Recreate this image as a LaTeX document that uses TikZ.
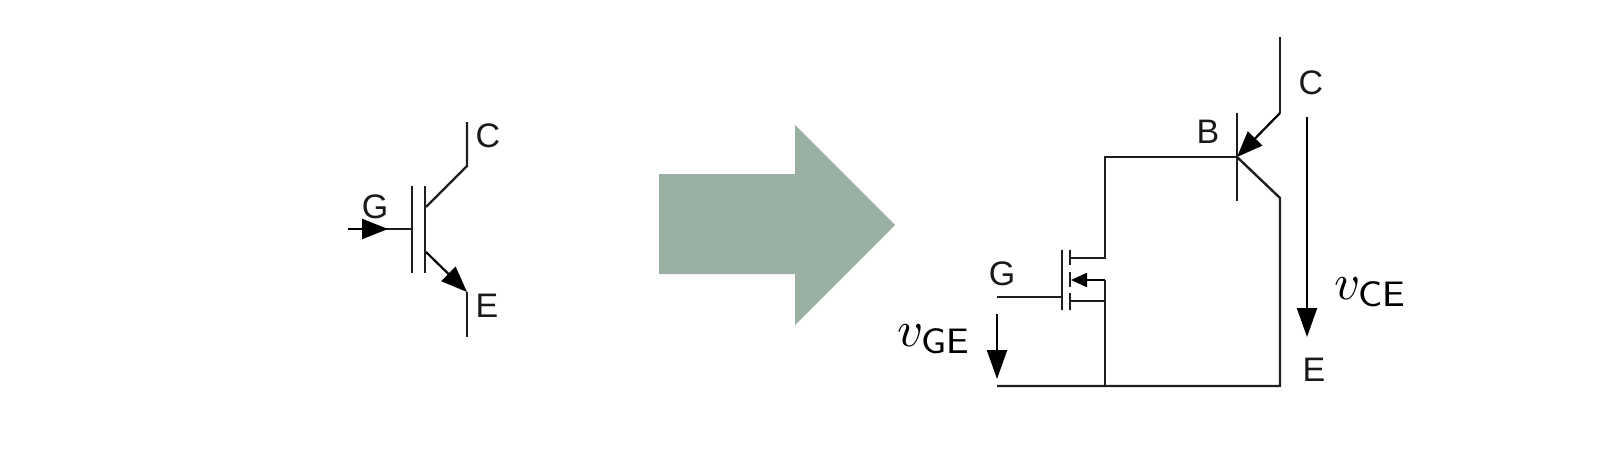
\documentclass[tikz,border=0pt]{standalone}
\usepackage{graphicx}
\usepackage{fontspec}
\newfontfamily\labelfont{Liberation Sans}
\usetikzlibrary{arrows.meta}
\definecolor{bigarrow}{HTML}{9AB0A3}
\definecolor{wire}{HTML}{1E1E1E}
\tikzset{
  wireline/.style={draw=wire,line width=2.4pt,line join=miter},
  thinwire/.style={draw=black,line width=2.2pt},
  pinlabel/.style={inner sep=0pt,font=\labelfont\fontsize{34}{34}\selectfont,text=black!90},
  vlabel/.style={inner sep=0pt,anchor=base west},
  tip/.style={-{Triangle[length=#1,width=20pt]}},
  tipsmall/.style={-{Triangle[length=16pt,width=14pt]}}
}
\begin{document}
\begin{tikzpicture}[x=1pt,y=-1pt]
\useasboundingbox (0,0) rectangle (1602,460);
\fill[bigarrow] (659,174) -- (795,174) -- (795,125) -- (895,225) -- (795,325) -- (795,274) -- (659,274) -- cycle;
% left IGBT
\coordinate (lc1) at (467,122);
\coordinate (lc2) at (467,166);
\coordinate (lcb) at (426,207);
\coordinate (leb) at (426,252);
\coordinate (le1) at (467,292);
\coordinate (le2) at (467,337);
\coordinate (lg0) at (348,229);
\coordinate (lg1) at (412,229);
\coordinate (lgt) at (388,229);
\coordinate (lb1a) at (412,186);
\coordinate (lb1b) at (412,273);
\coordinate (lb2a) at (425,186);
\coordinate (lb2b) at (425,273);
\draw[wireline] (lc1) -- (lc2) -- (lcb);
\draw[wireline] (lb1a) -- (lb1b);
\draw[wireline] (lb2a) -- (lb2b);
\draw[wireline] (lg0) -- (lg1);
\draw[thinwire,tip=26pt] (lg0) -- (lgt);
\draw[thinwire,tip=26pt] (leb) -- (le1);
\draw[wireline] (le1) -- (le2);
\node[pinlabel] (lC) at (488,136) {C};
\node[pinlabel] (lG) at (375,207) {G};
\node[pinlabel] (lE) at (487,306) {E};
% right circuit
\coordinate (rc1) at (1280,37);
\coordinate (rc2) at (1280,113);
\coordinate (rb) at (1237,157);
\coordinate (rba) at (1237,113);
\coordinate (rbb) at (1237,201);
\coordinate (re1) at (1280,198);
\coordinate (rbr) at (1280,386);
\coordinate (rbl) at (997,386);
\coordinate (rbm) at (1105,386);
\coordinate (rtl) at (1105,157);
\coordinate (rd) at (1105,258);
\coordinate (rdl) at (1070,258);
\coordinate (rbody) at (1105,280);
\coordinate (rbt) at (1071,280);
\coordinate (rs) at (1105,301);
\coordinate (rsl) at (1070,301);
\coordinate (rgl) at (997,297);
\coordinate (rgr) at (1062,297);
\draw[wireline] (rc1) -- (rc2);
\draw[thinwire,tip=26pt] (rc2) -- (rb);
\draw[wireline] (rba) -- (rbb);
\draw[wireline] (rb) -- (rtl) -- (rd) -- (rdl);
\draw[wireline] (rb) -- (re1) -- (rbr) -- (rbl);
\draw[wireline] (rsl) -- (rs);
\draw[wireline] (rs) -- (rbm);
\draw[thinwire,tipsmall] (rbody) -- (rbt);
\draw[wireline] (rbody) -- (rs);
\draw[wireline] (rgl) -- (rgr);
\draw[wireline] (1062,250) -- (1062,310);
\draw[wireline] (1070,250) -- (1070,265);
\draw[wireline] (1070,272) -- (1070,287);
\draw[wireline] (1070,293) -- (1070,310);
\coordinate (vg1) at (997,314);
\coordinate (vg2) at (997,379);
\coordinate (vc1) at (1307,117);
\coordinate (vc2) at (1307,337);
\draw[thinwire,tip=29pt] (vg1) -- (vg2);
\draw[thinwire,tip=29pt] (vc1) -- (vc2);
\node[pinlabel] (rC) at (1311,83) {C};
\node[pinlabel] (rB) at (1208,132) {B};
\node[pinlabel] (rG) at (1002,274) {G};
\node[pinlabel] (rE) at (1314,370) {E};
\node[vlabel] (vge) at (897,346) {\scalebox{5.05}{$v_{\mathsf{GE}}$}};
\node[vlabel] (vce) at (1334,299) {\scalebox{5.05}{$v_{\mathsf{CE}}$}};
\end{tikzpicture}
\end{document}
